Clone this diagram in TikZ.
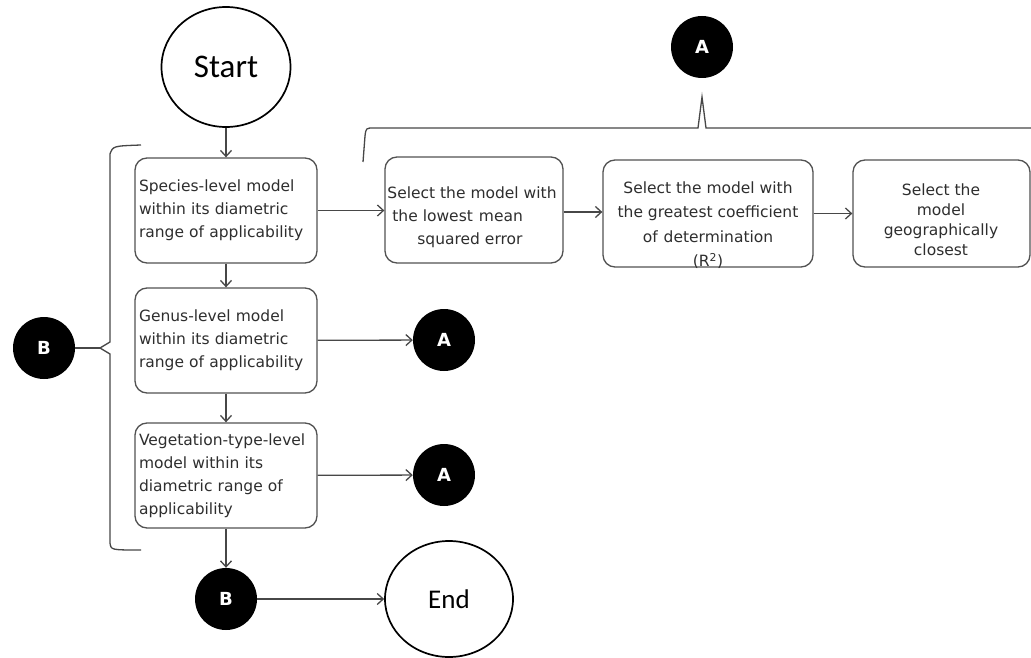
\documentclass[tikz,border=0pt]{standalone}
\usepackage{fontspec}
\setmainfont{DejaVu Sans}
\newfontfamily\calfont{Carlito}
\usetikzlibrary{arrows.meta,shapes.geometric}
\begin{document}
\begin{tikzpicture}[x=1pt,y=-1pt,
  line/.style={draw=black!72, line width=1.3pt},
  arr/.style={line, -{Straight Barb[length=6pt,width=11pt,line width=1.3pt]}},
  box/.style={draw=black!68, line width=1.3pt, rounded corners=12pt, inner sep=0pt},
  txt/.style={text=black!82, font=\fontsize{15.5}{23}\selectfont},
  dot/.style={circle, fill=black, minimum size=62pt, inner sep=0pt, text=white, font=\fontsize{18}{18}\selectfont\bfseries},
  term/.style={ellipse, draw=black, line width=1.7pt, inner sep=0pt}
]
\useasboundingbox (0,0) rectangle (1031,658);
\fill[white] (0,0) rectangle (1031,658);

% terminals
\node[term, minimum width=129pt, minimum height=120pt, font=\calfont\fontsize{33}{33}\selectfont] (start) at (226,67) {Start};
\node[term, minimum width=128pt, minimum height=116pt, font=\calfont\fontsize{27}{27}\selectfont] (end) at (449,599) {End};

% left column boxes
\node[box, txt, align=left, text width=174pt, minimum width=182pt, minimum height=105pt] (sp) at (226,210.5)
  {Species-level model\\within its diametric\\range of applicability};
\node[box, txt, align=left, text width=174pt, minimum width=182pt, minimum height=105pt] (ge) at (226,340.5)
  {Genus-level model\\within its diametric\\range of applicability};
\node[box, txt, align=left, text width=174pt, minimum width=182pt, minimum height=105pt] (veg) at (226,475.5)
  {Vegetation-type-level\\model within its\\diametric range of\\applicability};

% top row boxes
\node[box, minimum width=178pt, minimum height=106pt] (b1) at (474,210) {};
\node[txt, align=left] (b1t) at (472,217)
  {Select the model with\\\hspace{5pt}the lowest\hspace{6pt}mean\\\hspace{30pt}squared error};
\node[box, minimum width=210pt, minimum height=107pt] (b2) at (708,213.5) {};
\node[txt, align=center, font=\fontsize{15.5}{24.5}\selectfont] (b2t) at (708,225)
  {Select the model with\\the greatest coefficient\\of\hspace{6pt}determination\\(R\textsuperscript{2})};
\node[box, minimum width=177pt, minimum height=107pt] (b3) at (941.5,213.5) {};
\node[txt, align=center, font=\fontsize{15.5}{20}\selectfont] (b3t) at (941,220)
  {Select the\\model\\geographically\\closest};

% connector dots
\node[dot] (atop) at (702,47) {A};
\node[dot] (a1) at (444,340) {A};
\node[dot] (a2) at (444,475) {A};
\node[dot] (bl) at (44,348) {B};
\node[dot] (bb) at (226,599) {B};

% brackets
\coordinate (brtip) at (100,348);
\coordinate (ttip) at (702,97);
\draw[line] (141,145) .. controls (113,146) .. (110,154) -- (110,342) -- (brtip) -- (110,354) -- (110,543) .. controls (111,550) .. (141,550);
\draw[line] (bl) -- (brtip);
\draw[line] (363,162) -- (365,136) .. controls (366,128) .. (374,128) -- (698,128) -- (ttip) -- (706,128) -- (1031,128);

% arrows
\draw[arr] (start) -- (sp);
\draw[arr] (sp) -- (ge);
\draw[arr] (ge) -- (veg);
\draw[arr] (veg) -- (bb);
\draw[arr] (sp.east) -- (sp.east -| b1.west);
\draw[arr] ([yshift=-2pt]b1.east) -- ([yshift=-2pt]b1.east -| b2.west);
\draw[arr] (b2) -- (b3);
\draw[arr] (ge) -- (a1);
\draw[arr] (veg) -- (a2);
\draw[arr] (bb) -- (end);
\end{tikzpicture}
\end{document}
